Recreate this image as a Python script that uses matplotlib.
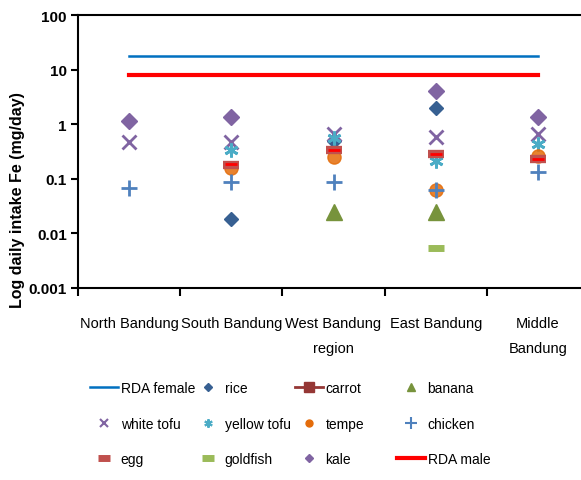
import matplotlib
matplotlib.use("Agg")
import matplotlib.pyplot as plt
from matplotlib.lines import Line2D
import numpy as np

nan = np.nan

regions = ['North Bandung', 'South Bandung', 'West Bandung\nregion', 'East Bandung', 'Middle\nBandung']

rda_female = [18, 18, 18, 18, 18]
rice = [nan, 0.018, 0.5, 2.0, nan]
carrot = [nan, 0.19, 0.34, 0.28, 0.23]
banana = [nan, nan, 0.025, 0.025, nan]
white_tofu = [0.48, 0.48, 0.65, 0.58, 0.65]
yellow_tofu = [nan, 0.33, 0.55, 0.21, 0.44]
tempe = [nan, 0.16, 0.25, 0.062, 0.26]
chicken = [0.068, 0.088, 0.088, 0.062, 0.135]
egg = [nan, 0.18, 0.34, 0.28, 0.23]
goldfish = [nan, nan, nan, 0.0055, nan]
kale = [1.15, 1.35, nan, 4.0, 1.35]
rda_male = [8, 8, 8, 8, 8]

plt.rcParams['font.family'] = ['Liberation Sans', 'DejaVu Sans']

fig = plt.figure(figsize=(5.81, 4.81), dpi=100)
# plot area runs past the right edge, like the cropped original
ax = fig.add_axes([78 / 581, 1 - 289 / 481, 511 / 581, 273 / 481])

x = np.arange(len(regions))

ax.plot(x, rda_female, color='#0070C0', lw=1.8, zorder=2)
ax.plot(x, rice, ls='none', marker='D', ms=7.5, color='#376092', zorder=3)
ax.plot(x, banana, ls='none', marker='^', ms=11, color='#77933C', zorder=3)
ax.plot(x, white_tofu, ls='none', marker='x', ms=10, mew=2, color='#8064A2', zorder=3)
ax.plot(x, yellow_tofu, ls='none', marker=(6, 2, 0), ms=10, mew=2, color='#4BACC6', zorder=3)
ax.plot(x, tempe, ls='none', marker='o', ms=9.5, color='#E46C0A', alpha=0.85, zorder=3)
ax.plot(x, chicken, ls='none', marker='+', ms=11, mew=2, color='#4F81BD', zorder=4)
ax.plot(x, egg, ls='none', marker='_', ms=11, mew=6, color='#C0504D', zorder=4)
ax.plot(x, carrot, ls='none', marker='_', ms=8, mew=2, color='#FF0000', zorder=5)
ax.plot(x, goldfish, ls='none', marker='_', ms=11, mew=5, color='#9BBB59', zorder=4)
ax.plot(x, kale, ls='none', marker='D', ms=8.5, color='#8064A2', zorder=4)
ax.plot(x, rda_male, color='#FF0000', lw=3, zorder=2)

ax.set_yscale('log')
ax.set_ylim(0.001, 100)
ax.set_xlim(-0.5, 4.5)
ax.set_yticks([0.001, 0.01, 0.1, 1, 10, 100])
ax.set_yticklabels(['0.001', '0.01', '0.1', '1', '10', '100'],
                   fontweight='bold', fontsize=11)
ax.yaxis.set_minor_locator(matplotlib.ticker.NullLocator())
ax.tick_params(axis='y', which='major', length=5, width=1.5, pad=3)

ax.set_xticks(x)
ax.set_xticklabels(regions, fontsize=10.5, linespacing=2.0, va='top')
ax.tick_params(axis='x', which='major', length=0, pad=20)
ax.set_xticks(np.arange(-0.5, 5.0, 1.0), minor=True)
ax.tick_params(axis='x', which='minor', length=6, width=1.5)

for s in ax.spines.values():
    s.set_linewidth(1.5)

fig.text(18 / 581, 1 - 200 / 481, 'Log daily intake Fe (mg/day)', rotation=90,
         ha='center', va='center', fontweight='bold', fontsize=11.5)

# legend, laid out row by row as in the original
def h_line(c, lw):
    return Line2D([], [], color=c, lw=lw)

def h_mark(m, c, ms, mew=1):
    return Line2D([], [], ls='none', marker=m, color=c, ms=ms, mew=mew)

columns = [
    (90, [(h_line('#0070C0', 1.8), 'RDA female'),
          (h_mark('x', '#8064A2', 6, 1.5), 'white tofu'),
          (h_mark('_', '#C0504D', 8, 5), 'egg')]),
    (194, [(h_mark('D', '#376092', 4), 'rice'),
           (h_mark((6, 2, 0), '#4BACC6', 6, 1.5), 'yellow tofu'),
           (h_mark('_', '#9BBB59', 8, 5), 'goldfish')]),
    (295, [(Line2D([], [], color='#953735', lw=2, marker='s', ms=7), 'carrot'),
           (h_mark('o', '#E46C0A', 5), 'tempe'),
           (h_mark('D', '#8064A2', 4), 'kale')]),
    (397, [(h_mark('^', '#77933C', 6), 'banana'),
           (h_mark('+', '#4F81BD', 8, 1.5), 'chicken'),
           (h_line('#FF0000', 3), 'RDA male')]),
]

for xpos, entries in columns:
    hs = [e[0] for e in entries]
    ls = [e[1] for e in entries]
    fig.legend(hs, ls, loc='upper left', bbox_to_anchor=(xpos / 581, 1 - 382 / 481),
               frameon=False, fontsize=10, borderpad=0, borderaxespad=0,
               handlelength=2.0, handletextpad=0.2, labelspacing=1.55)

plt.savefig('out.png', dpi=100)
